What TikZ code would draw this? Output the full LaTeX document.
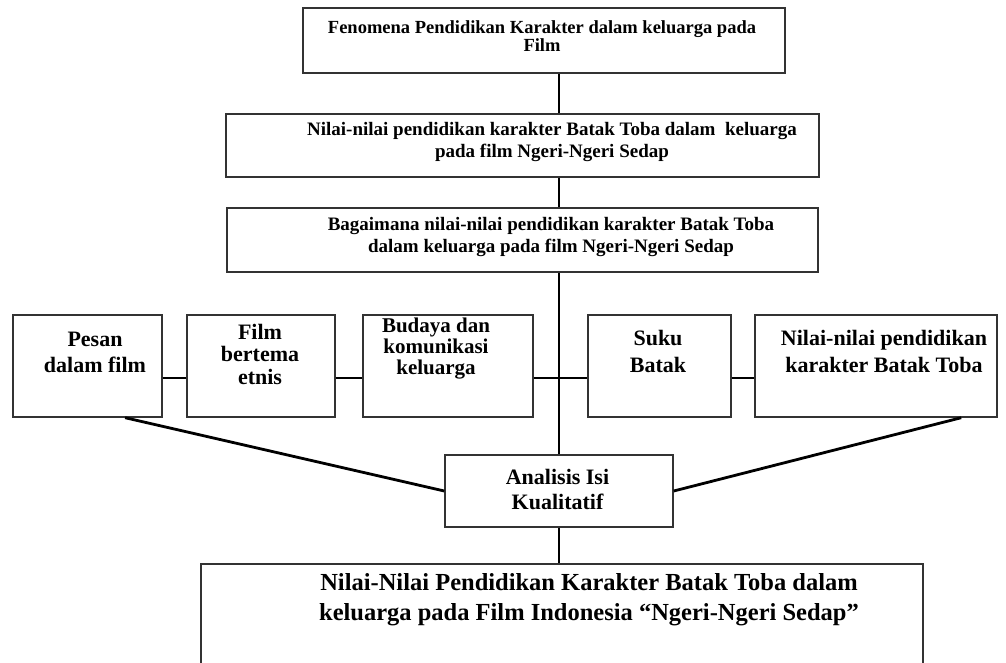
\documentclass[tikz,border=0pt]{standalone}
\usepackage{fontspec}
\setmainfont{Liberation Serif}
\usetikzlibrary{calc}

\begin{document}
\begin{tikzpicture}[x=1pt, y=-1pt,
    box/.style={draw=black!80, line width=1.4pt, inner sep=0pt, fill=white},
    txt/.style 2 args={align=center, inner sep=0pt, font=\bfseries\fontsize{#1}{#2}\selectfont},
    link/.style={line width=2.8pt, black}]
  \clip (0,0) rectangle (1006,662);

  % top chain
  \node[box, minimum width=482, minimum height=65] (q1) at (544,40.5) {};
  \node[txt={18.5}{18}] (t1) at (542,36) {Fenomena Pendidikan Karakter dalam keluarga pada\\Film};
  \node[box, minimum width=593, minimum height=63] (q2) at (522.5,145.5) {};
  \node[txt={19}{22}] (t2) at (552,142) {Nilai-nilai pendidikan karakter Batak Toba dalam\ \ keluarga\\pada film Ngeri-Ngeri Sedap};
  \node[box, minimum width=591, minimum height=64] (q3) at (522.5,240) {};
  \node[txt={19}{22}] (t3) at (551,237) {Bagaimana nilai-nilai pendidikan karakter Batak Toba\\dalam keluarga pada film Ngeri-Ngeri Sedap};

  % row of concepts
  \node[box, minimum width=149, minimum height=102] (pesan) at (87.5,366) {};
  \node[txt={22}{26}] (tpesan) at (95,352) {Pesan\\dalam film};
  \node[box, minimum width=148, minimum height=102] (film) at (261,366) {};
  \node[txt={22}{22.5}] (tfilm) at (260,354) {Film\\bertema\\etnis};
  \node[box, minimum width=170, minimum height=102] (budaya) at (448,366) {};
  \node[txt={21}{21}] (tbudaya) at (436,349) {Budaya dan\\komunikasi\\keluarga};
  \node[box, minimum width=143, minimum height=102] (suku) at (659.5,366) {};
  \node[txt={22}{27}] (tsuku) at (658,351) {Suku\\Batak};
  \node[box, minimum width=242, minimum height=102] (nilai) at (876,366) {};
  \node[txt={22}{27}] (tnilai) at (884,351) {Nilai-nilai pendidikan\\karakter Batak Toba};

  % analysis and result
  \node[box, minimum width=228, minimum height=72] (ana) at (559,491) {};
  \node[txt={22}{25}] (tana) at (557.5,489.5) {Analisis Isi\\Kualitatif};
  \node[box, minimum width=722, minimum height=106] (hasil) at (562,617) {};
  \node[txt={24.5}{30}] (thasil) at (589,600) {Nilai-Nilai Pendidikan Karakter Batak Toba dalam\\keluarga pada Film Indonesia “Ngeri-Ngeri Sedap”};

  % connectors
  \coordinate (row) at (0,378);
  \draw[link] (q1.south -| ana) -- (q2.north -| ana);
  \draw[link] (q2.south -| ana) -- (q3.north -| ana);
  \draw[link] (q3.south -| ana) -- (ana.north);
  \draw[link] (ana.south) -- (hasil.north -| ana);
  \draw[link] (pesan.east |- row) -- (film.west |- row);
  \draw[link] (film.east |- row) -- (budaya.west |- row);
  \draw[link] (budaya.east |- row) -- (suku.west |- row);
  \draw[link] (suku.east |- row) -- (nilai.west |- row);
  \draw[link] ($(pesan.south)!0.5!(pesan.south east)$) -- (ana.west);
  \draw[link] ($(nilai.south)!0.7!(nilai.south east)$) -- (ana.east);
\end{tikzpicture}
\end{document}
